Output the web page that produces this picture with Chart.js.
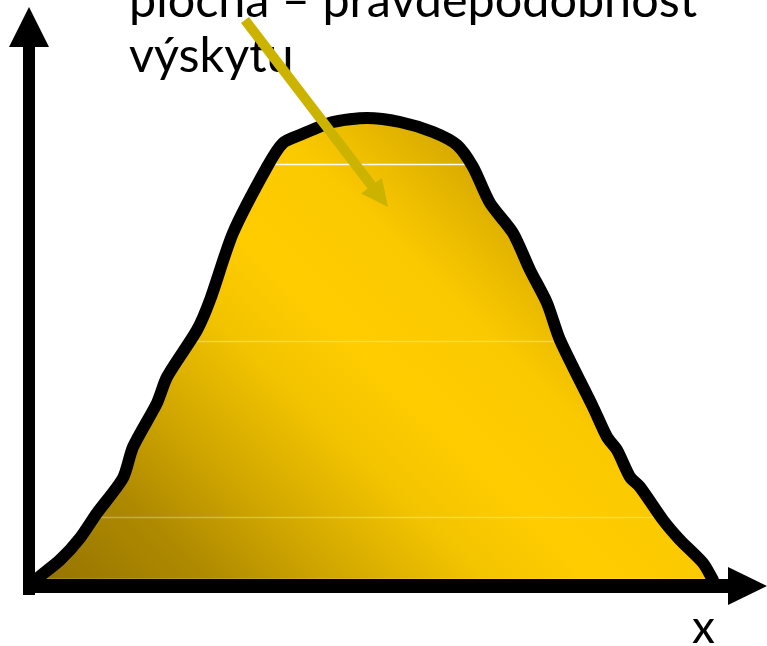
<!DOCTYPE html>
<html>
<head>
<meta charset="utf-8">
<script src="https://cdn.jsdelivr.net/npm/chart.js@4"></script>
<style>
  html, body { margin: 0; padding: 0; background: #ffffff; }
  #wrap { width: 767px; height: 646px; }
</style>
</head>
<body>
<div id="wrap"><canvas id="densityChart" width="767" height="646"></canvas></div>
<script>
// curve (x = distance from the y axis, y = height above the x axis)
const curveX = [6, 31, 51, 68, 94, 104, 128, 138, 168, 181, 204, 238, 254, 271, 304, 338,
                371, 404, 428, 444, 461, 484, 501, 518, 531, 564, 578, 588, 601, 611, 634, 651, 674, 684];
const curveY = [6, 26, 48, 73, 108, 139, 183, 209, 256, 286, 353, 419, 443, 451, 464, 468,
                464, 454, 441, 419, 383, 353, 316, 283, 246, 179, 149, 136, 109, 99, 66, 46, 23, 6];

// annotation arrow (from the label into the area), in the same units
const arrowFrom = [216, 566];
const arrowTo = [359, 379];

const labelLines = ['plocha – pravděpodobnost', 'výskytu'];
const axisLabel = 'x';

// faint banding lines inside the fill (value heights)
const bandY = [422, 245, 69, 7];
const bandAlpha = [0.95, 0.3, 0.3, 0.6];

const points = curveX.map((x, i) => ({ x: x, y: curveY[i] }));

function areaGradient(context) {
    const chart = context.chart;
    if (!chart.chartArea) return '#ffcc00';
    const xs = chart.scales.x, ys = chart.scales.y;
    const g = chart.ctx.createLinearGradient(
        xs.getPixelForValue(0), ys.getPixelForValue(0),
        xs.getPixelForValue(450), ys.getPixelForValue(460));
    g.addColorStop(0, '#937200');
    g.addColorStop(0.2, '#ae8900');
    g.addColorStop(0.35, '#d2a800');
    g.addColorStop(0.5, '#f2c300');
    g.addColorStop(0.62, '#ffcc00');
    g.addColorStop(0.78, '#fbc900');
    g.addColorStop(0.9, '#e3b400');
    g.addColorStop(1, '#cba000');
    return g;
}

// white bands, drawn right after the fill and under the outline
const bandPlugin = {
    id: 'bands',
    beforeDatasetDraw(chart, args) {
        const meta = chart.getDatasetMeta(args.index);
        const line = meta.dataset;
        const ctx = chart.ctx;
        const xs = chart.scales.x, ys = chart.scales.y;
        line.updateControlPoints(chart.chartArea, 'x');
        const pts = meta.data;
        const base = ys.getPixelForValue(0);
        ctx.save();
        ctx.beginPath();
        line.path(ctx);
        ctx.lineTo(pts[pts.length - 1].x, base);
        ctx.lineTo(pts[0].x, base);
        ctx.closePath();
        ctx.clip();
        bandY.forEach((v, i) => {
            const y = Math.round(ys.getPixelForValue(v)) + 0.5;
            ctx.strokeStyle = 'rgba(255,255,255,' + bandAlpha[i] + ')';
            ctx.lineWidth = 1.5;
            ctx.beginPath();
            ctx.moveTo(xs.left, y);
            ctx.lineTo(xs.right, y);
            ctx.stroke();
        });
        ctx.restore();
    }
};

// axes with arrow heads, labels and the pointer arrow
const decorPlugin = {
    id: 'decor',
    afterDatasetsDraw(chart) {
        const ctx = chart.ctx;
        const xs = chart.scales.x, ys = chart.scales.y;
        const ox = xs.getPixelForValue(0);
        const oy = ys.getPixelForValue(0);
        ctx.save();
        ctx.fillStyle = '#000000';

        // y axis
        ctx.fillRect(ox - 6, 46, 12, oy + 9 - 46);
        ctx.beginPath();
        ctx.moveTo(ox, 7);
        ctx.lineTo(ox + 20, 47);
        ctx.lineTo(ox - 20, 47);
        ctx.closePath();
        ctx.fill();

        // x axis
        ctx.fillRect(ox - 6, oy - 7, 735 - ox, 14);
        ctx.beginPath();
        ctx.moveTo(767, oy);
        ctx.lineTo(728, oy - 19);
        ctx.lineTo(728, oy + 19);
        ctx.closePath();
        ctx.fill();

        // texts
        ctx.fillStyle = '#000000';
        ctx.textBaseline = 'alphabetic';
        ctx.textAlign = 'left';
        ctx.font = '52px Lato, "Open Sans", sans-serif';
        const w = ctx.measureText(labelLines[0]).width;
        const size = 52 * 568 / w;
        ctx.font = size.toFixed(1) + 'px Lato, "Open Sans", sans-serif';
        ctx.fillText(labelLines[0], 129, 17);
        ctx.fillText(labelLines[1], 129, 72);
        ctx.font = '46px Lato, "Open Sans", sans-serif';
        ctx.fillText(axisLabel, 692, 643);

        // pointer arrow
        const x1 = xs.getPixelForValue(arrowFrom[0]), y1 = ys.getPixelForValue(arrowFrom[1]);
        const x2 = xs.getPixelForValue(arrowTo[0]), y2 = ys.getPixelForValue(arrowTo[1]);
        const ang = Math.atan2(y2 - y1, x2 - x1);
        const headLen = 27, headHalf = 13;
        const bx = x2 - headLen * Math.cos(ang), by = y2 - headLen * Math.sin(ang);
        ctx.strokeStyle = '#ccb300';
        ctx.fillStyle = '#ccb300';
        ctx.lineWidth = 10;
        ctx.lineCap = 'butt';
        ctx.beginPath();
        ctx.moveTo(x1, y1);
        ctx.lineTo(bx + 2 * Math.cos(ang), by + 2 * Math.sin(ang));
        ctx.stroke();
        ctx.beginPath();
        ctx.moveTo(x2, y2);
        ctx.lineTo(bx + headHalf * Math.sin(ang), by - headHalf * Math.cos(ang));
        ctx.lineTo(bx - headHalf * Math.sin(ang), by + headHalf * Math.cos(ang));
        ctx.closePath();
        ctx.fill();
        ctx.restore();
    }
};

new Chart(document.getElementById('densityChart'), {
    type: 'line',
    data: {
        datasets: [{
            data: points,
            borderColor: '#000000',
            borderWidth: 12,
            borderJoinStyle: 'round',
            borderCapStyle: 'round',
            backgroundColor: areaGradient,
            fill: 'origin',
            tension: 0.25,
            pointRadius: 0
        }]
    },
    options: {
        responsive: false,
        animation: false,
        layout: { padding: 0 },
        plugins: {
            legend: { display: false },
            tooltip: { enabled: false }
        },
        scales: {
            x: { type: 'linear', min: -29, max: 738, display: false },
            y: { type: 'linear', min: -60, max: 586, display: false }
        }
    },
    plugins: [bandPlugin, decorPlugin]
});
</script>
</body>
</html>
